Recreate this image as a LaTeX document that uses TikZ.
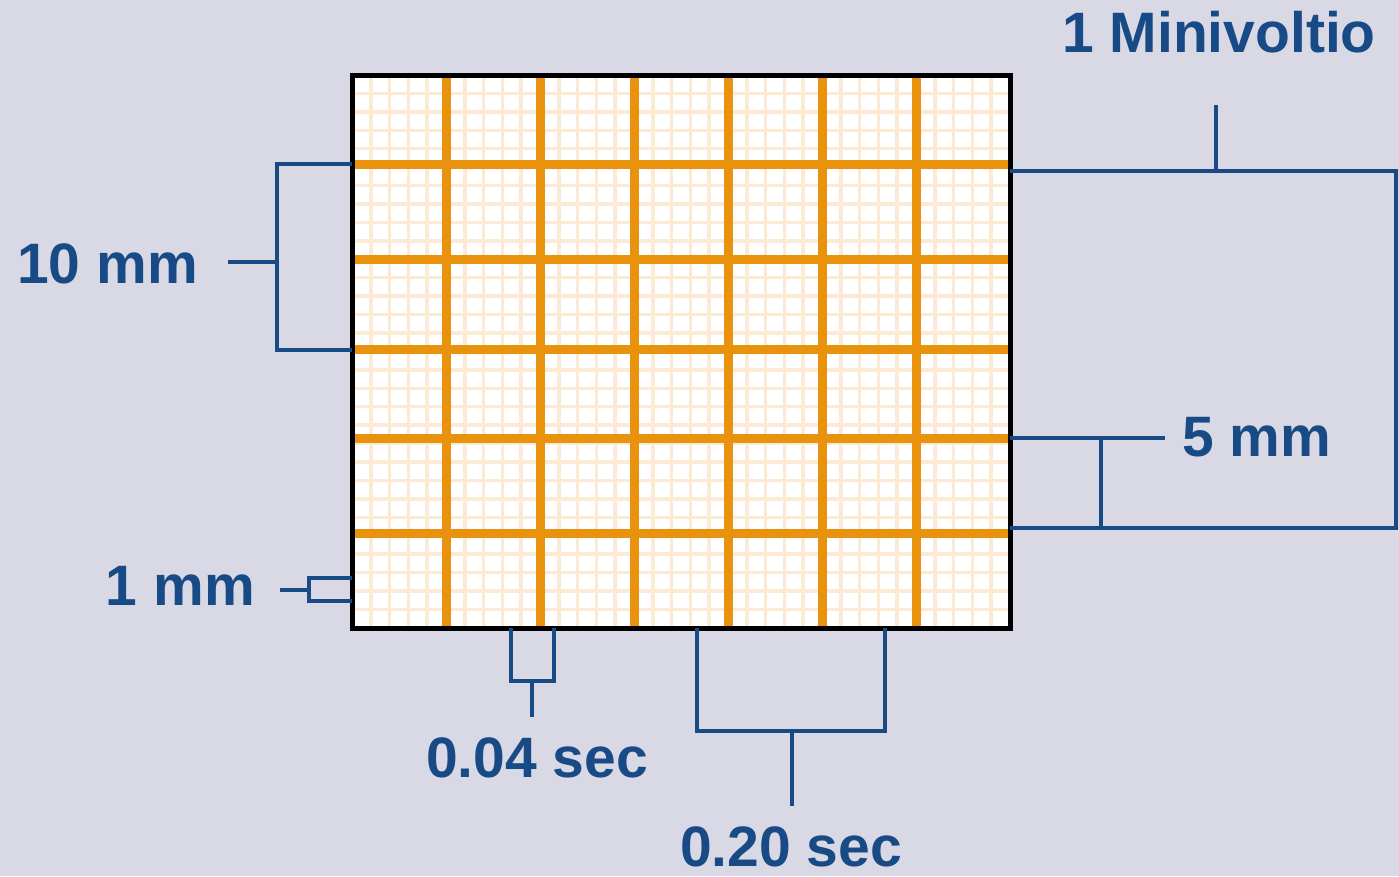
\documentclass[tikz,border=0pt]{standalone}
\usepackage{fontspec}
\setmainfont{Liberation Sans}
\definecolor{bg}{RGB}{217,217,230}
\definecolor{blu}{RGB}{24,74,134}
\definecolor{ora}{RGB}{232,146,14}
\definecolor{fine}{RGB}{252,234,212}
\begin{document}
\begin{tikzpicture}[x=1pt,y=-1pt,
  lbl/.style={inner sep=0pt,text=blu,font=\fontsize{57}{62}\selectfont\bfseries},
  brk/.style={draw=blu,line width=4pt,line join=miter},
  thick/.style={draw=ora,line width=9pt},
  finel/.style={draw=fine,line width=3.5pt}]
\fill[bg] (0,0) rectangle (1399,876);
\useasboundingbox (0,0) rectangle (1399,876);
% paper
\fill[white] (352,75) rectangle (1010,628);
\foreach \i in {1,...,34}{\draw[finel] ({352+\i*18.8},75) -- ({352+\i*18.8},628);}
\foreach \i in {1,...,29}{\draw[finel] (352,{75+\i*18.43}) -- (1010,{75+\i*18.43});}
\foreach \x in {446,540,634,728,822,916}{\draw[thick] (\x,75) -- (\x,628);}
\foreach \y in {164,259,349,438,533}{\draw[thick] (352,\y) -- (1010,\y);}
\draw[line width=5pt,black] (352,75) rectangle (1010,628);
% brackets
\draw[brk] (352,164) -- (277,164) -- (277,350) -- (352,350);
\draw[brk] (228,262) -- (277,262);
\draw[brk] (352,578) -- (309,578) -- (309,601) -- (352,601);
\draw[brk] (280,590) -- (309,590);
\draw[brk] (511,628) -- (511,681) -- (554,681) -- (554,628);
\draw[brk] (532,681) -- (532,717);
\draw[brk] (697,628) -- (697,731) -- (885,731) -- (885,628);
\draw[brk] (792,731) -- (792,806);
\draw[brk] (1010,171) -- (1396,171) -- (1396,528) -- (1010,528);
\draw[brk] (1216,105) -- (1216,171);
\draw[brk] (1010,438) -- (1165,438);
\draw[brk] (1101,438) -- (1101,528);
% labels
\node[lbl,anchor=base east] (t10) at (198,283) {10 mm};
\node[lbl,anchor=base east] (t1) at (255,605) {1 mm};
\node[lbl,anchor=base] (t004) at (537,777) {0.04 sec};
\node[lbl,anchor=base] (t020) at (791,866) {0.20 sec};
\node[lbl,anchor=base] (tmv) at (1219,52) {1 Minivoltio};
\node[lbl,anchor=base west] (t5) at (1182,456) {5 mm};
\end{tikzpicture}
\end{document}
